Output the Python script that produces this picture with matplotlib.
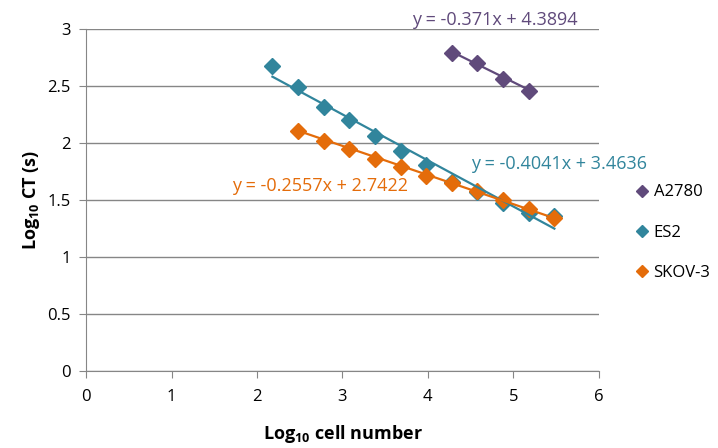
import numpy as np
import matplotlib
matplotlib.use("Agg")
from matplotlib import pyplot as plt

plt.rcParams['font.family'] = ['Open Sans', 'DejaVu Sans']
plt.rcParams['mathtext.fontset'] = 'custom'
plt.rcParams['mathtext.rm'] = 'Open Sans'
plt.rcParams['mathtext.bf'] = 'Open Sans:bold'

# data
a2780_x = [4.28, 4.58, 4.88, 5.18]
a2780_y = [2.79, 2.70, 2.56, 2.46]

es2_x = [2.18, 2.48, 2.78, 3.08, 3.38, 3.68, 3.98, 4.28, 4.58, 4.88, 5.18, 5.48]
es2_y = [2.68, 2.49, 2.32, 2.20, 2.06, 1.93, 1.81, 1.66, 1.57, 1.47, 1.39, 1.36]

skov_x = [2.48, 2.78, 3.08, 3.38, 3.68, 3.98, 4.28, 4.58, 4.88, 5.18, 5.48]
skov_y = [2.11, 2.02, 1.95, 1.86, 1.79, 1.71, 1.65, 1.58, 1.50, 1.42, 1.34]

# trendline coefficients (slope, intercept) as printed on the chart
a2780_fit = (-0.371, 4.3894)
es2_fit = (-0.4041, 3.4636)
skov_fit = (-0.2557, 2.7422)

names = ['A2780', 'ES2', 'SKOV-3']
colors = ['#604A7B', '#31859C', '#E46C0A']

fig = plt.figure(figsize=(7.18, 4.48), dpi=100)
ax = fig.add_axes([0.12, 0.172, 0.714, 0.763])

series = [(a2780_x, a2780_y, a2780_fit), (es2_x, es2_y, es2_fit), (skov_x, skov_y, skov_fit)]
for (xs, ys, fit), name, c in zip(series, names, colors):
    ax.plot(xs, ys, linestyle='none', marker='D', ms=8, color=c, label=name, zorder=3)
    xx = np.array([min(xs), max(xs)])
    ax.plot(xx, fit[0] * xx + fit[1], color=c, lw=1.6, zorder=4)

# equation labels
ax.text(4.78, 3.08, 'y = -0.371x + 4.3894', color=colors[0], fontsize=13, ha='center', va='center')
ax.text(5.53, 1.82, 'y = -0.4041x + 3.4636', color=colors[1], fontsize=13, ha='center', va='center')
ax.text(2.74, 1.62, 'y = -0.2557x + 2.7422', color=colors[2], fontsize=13, ha='center', va='center')

ax.set_xlim(0, 6)
ax.set_ylim(0, 3)
ax.set_xticks(range(0, 7))
ax.set_yticks(np.arange(0, 3.01, 0.5))
ax.set_yticklabels(['0', '0.5', '1', '1.5', '2', '2.5', '3'])
ax.yaxis.grid(True, color='#868686', lw=1)
ax.set_axisbelow(True)
for s in ['top', 'right']:
    ax.spines[s].set_visible(False)
for s in ['left', 'bottom']:
    ax.spines[s].set_color('#868686')
ax.tick_params(axis='both', colors='#868686', labelcolor='black', labelsize=12, length=5, direction='out')
ax.tick_params(axis='x', pad=8)
ax.tick_params(axis='y', pad=6)

ax.set_xlabel(r'Log$_{\mathbf{10}}$ cell number', fontsize=13, fontweight='bold', labelpad=13)
ax.set_ylabel(r'Log$_{\mathbf{10}}$ CT (s)', fontsize=13, fontweight='bold', labelpad=4)

ax.legend(loc='center left', bbox_to_anchor=(1.045, 0.405), frameon=False, fontsize=12,
          handlelength=0.6, handletextpad=0.4, labelspacing=1.45, markerscale=0.8)

fig.savefig('out.png', dpi=100)
